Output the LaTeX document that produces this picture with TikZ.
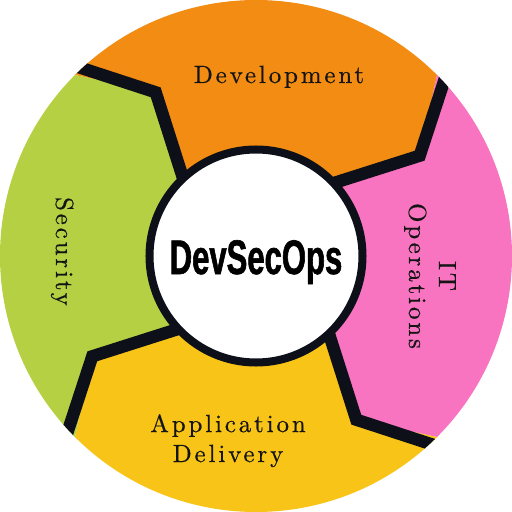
\documentclass[tikz,border=0pt]{standalone}
\usepackage{fontspec}
\usepackage{xcolor}
\usepackage{tikz}
\newfontfamily\headfont{Liberation Sans}[FakeStretch=0.64, FakeBold=1.2]
\newfontfamily\lblfont{lmroman10-regular}[Extension=.otf, LetterSpace=11.6, FakeBold=0.5]
\definecolor{devorange}{HTML}{F28C12}
\definecolor{opspink}{HTML}{F874C0}
\definecolor{appyellow}{HTML}{F8C418}
\definecolor{secgreen}{HTML}{B5D043}
\definecolor{sepblack}{HTML}{0E1019}

\begin{document}
\begin{tikzpicture}[x=0.025cm, y=0.025cm,
    divider/.style={draw=sepblack, line width=8.8pt, line join=miter},
    hubring/.style={draw=sepblack, fill=white, line width=5.7pt},
    lbl/.style={font=\lblfont\fontsize{17.7}{21.3}\selectfont, text=black!92, align=center, inner sep=0pt},
    headline/.style={font=\headfont\bfseries\fontsize{34.5}{40}\selectfont, text=black, inner sep=0pt}]

  \useasboundingbox (-256,-256) rectangle (256,256);

  % top segment (Development)
  \fill[devorange] (0,0) -- (135:100) -- (121.5:192) -- (135:256)
    arc[start angle=135, end angle=45, radius=256] -- (31.5:192) -- (45:100) -- cycle;

  % right segment (IT Operations)
  \fill[opspink] (0,0) -- (45:100) -- (31.5:192) -- (45:256)
    arc[start angle=45, end angle=-45, radius=256] -- (-58.5:192) -- (-45:100) -- cycle;

  % bottom segment (Application Delivery)
  \fill[appyellow] (0,0) -- (-45:100) -- (-58.5:192) -- (-45:256)
    arc[start angle=-45, end angle=-135, radius=256] -- (-148.5:192) -- (-135:100) -- cycle;

  % left segment (Security)
  \fill[secgreen] (0,0) -- (-135:100) -- (-148.5:192) -- (-135:256)
    arc[start angle=-135, end angle=-225, radius=256] -- (121.5:192) -- (135:100) -- cycle;

  % black zig-zag dividers, cut at the rim
  \begin{scope}
    \clip (0,0) circle (256);
    \draw[divider] (135:100) -- (121.5:192) -- (135:275);
    \draw[divider] (45:100) -- (31.5:192) -- (45:275);
    \draw[divider] (-45:100) -- (-58.5:192) -- (-45:275);
    \draw[divider] (-135:100) -- (-148.5:192) -- (-135:275);
  \end{scope}

  % centre disc
  \draw[hubring] (0,0) circle (106.5);
  \node[headline, anchor=base] (title) at (0,-18) {DevSecOps};

  % segment labels (base = last line)
  \node[lbl, anchor=base] (dev) at (23,173) {Development};
  \node[lbl, anchor=base, rotate=-90] (ops) at (153,-20) {IT\\Operations};
  \node[lbl, anchor=base] (app) at (-28,-206) {Application\\Delivery};
  \node[lbl, anchor=base, rotate=-90] (sec) at (-200,4.5) {Security};
\end{tikzpicture}
\end{document}
